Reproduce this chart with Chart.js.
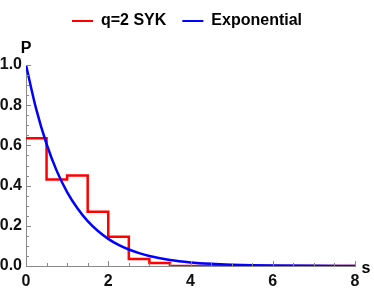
<!DOCTYPE html>
<html><head><meta charset="utf-8">
<script src="https://cdn.jsdelivr.net/npm/chart.js@4/dist/chart.umd.min.js"></script>
<style>html,body{margin:0;padding:0;background:#fff}#wrap{width:374px;height:291px}</style>
</head><body><div id="wrap"><canvas id="c" width="374" height="291"></canvas></div>
<script>
// Data
const binEdges = [0, 0.5, 1, 1.5, 2, 2.5, 3, 3.5, 8];
const sykValues = [0.635, 0.43, 0.45, 0.27, 0.145, 0.035, 0.015, 0, 0];
const expS = [0, 0.25, 0.5, 0.75, 1, 1.25, 1.5, 1.75, 2, 2.25, 2.5, 2.75, 3, 3.5, 4, 4.5, 5, 5.5, 6, 7, 8];
const expP = [1, 0.779, 0.607, 0.472, 0.368, 0.287, 0.223, 0.174, 0.135, 0.105, 0.082, 0.064, 0.050, 0.030, 0.018, 0.011, 0.0067, 0.0041, 0.0025, 0.0009, 0.0003];
const xTicks = [0, 2, 4, 6, 8];
const yTicks = [0, 0.2, 0.4, 0.6, 0.8, 1.0];
const seriesNames = ['q=2 SYK', 'Exponential'];
const axisNames = {x: 's', y: 'P'};

const FONT = '"Liberation Sans", Arial, sans-serif';
const sykPts = binEdges.map((e, i) => ({x: e, y: sykValues[i]}));
const expPts = expS.map((s, i) => ({x: s, y: expP[i]}));

const decor = {
  id: 'decor',
  afterDraw(chart) {
    const ctx = chart.ctx, xs = chart.scales.x, ys = chart.scales.y;
    const x0 = xs.getPixelForValue(0), y0 = ys.getPixelForValue(0);
    ctx.save();
    ctx.strokeStyle = '#888';
    ctx.lineWidth = 1;
    for (let k = 0; k <= 16; k++) {
      const v = k * 0.5;
      const p = Math.round(xs.getPixelForValue(v)) + 0.5;
      const major = k % 4 === 0;
      ctx.beginPath(); ctx.moveTo(p, y0); ctx.lineTo(p, y0 - (major ? 5 : 3)); ctx.stroke();
    }
    for (let k = 0; k <= 20; k++) {
      const v = k * 0.05;
      const p = Math.round(ys.getPixelForValue(v)) + 0.5;
      const major = k % 4 === 0;
      ctx.beginPath(); ctx.moveTo(x0, p); ctx.lineTo(x0 + (major ? 5 : 3), p); ctx.stroke();
    }
    ctx.fillStyle = '#000';
    ctx.font = 'bold 16px ' + FONT;
    ctx.textAlign = 'center';
    ctx.textBaseline = 'alphabetic';
    ctx.fillText(axisNames.y, x0, 53);
    ctx.fillText(axisNames.x, xs.getPixelForValue(8) + 11, y0 + 7);
    ctx.restore();
  }
};

new Chart(document.getElementById('c'), {
  type: 'line',
  data: {
    datasets: [
      {label: seriesNames[0], data: sykPts, borderColor: '#ff0000', backgroundColor: '#ff0000', borderWidth: 2.5, stepped: 'before', pointRadius: 0, fill: false, order: 2},
      {label: seriesNames[1], data: expPts, borderColor: '#0000ff', backgroundColor: '#0000ff', borderWidth: 2.5, cubicInterpolationMode: 'monotone', pointRadius: 0, fill: false, order: 1}
    ]
  },
  options: {
    responsive: false,
    animation: false,
    layout: {padding: {left: 0, right: 0, top: -3, bottom: 0}},
    plugins: {
      legend: {
        display: true, position: 'top', align: 'center',
        labels: {
          font: {family: FONT, size: 16, weight: 'bold'}, color: '#222',
          boxWidth: 21, boxHeight: 2, padding: 16,
          generateLabels(chart) {
            return chart.data.datasets.map((d, i) => ({text: d.label, fillStyle: d.borderColor, strokeStyle: d.borderColor, lineWidth: 0, datasetIndex: i}));
          }
        }
      },
      subtitle: {display: true, text: '', weight: 500, position: 'top', padding: 0, font: {size: 26, lineHeight: 1}},
      tooltip: {enabled: false}
    },
    scales: {
      x: {
        type: 'linear', min: 0, max: 8,
        afterBuildTicks(s) { s.ticks = xTicks.map(v => ({value: v})); },
        afterFit(s) { s.height = 25; },
        grid: {display: false, drawTicks: false},
        border: {display: true, color: '#888', width: 1},
        ticks: {font: {family: FONT, size: 16, weight: 'bold'}, color: '#111', padding: 6, maxRotation: 0, callback: v => String(v)}
      },
      y: {
        type: 'linear', min: 0, max: 1,
        afterBuildTicks(s) { s.ticks = yTicks.map(v => ({value: v})); },
        afterFit(s) { s.width = 26; },
        grid: {display: false, drawTicks: false},
        border: {display: true, color: '#888', width: 1},
        ticks: {font: {family: FONT, size: 16, weight: 'bold'}, color: '#111', padding: 4, callback: v => v.toFixed(1)}
      },
      yR: {
        type: 'linear', position: 'right', display: true, min: 0, max: 1,
        afterFit(s) { s.width = 19; },
        grid: {display: false, drawTicks: false},
        border: {display: false},
        ticks: {display: false}
      }
    }
  },
  plugins: [decor]
});
</script></body></html>
